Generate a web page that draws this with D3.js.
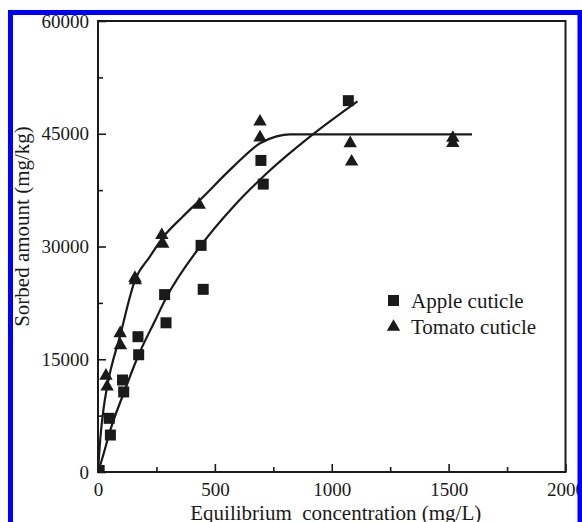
<!DOCTYPE html>
<html>
<head>
<meta charset="utf-8">
<script src="https://cdn.jsdelivr.net/npm/d3@7"></script>
<style>
  html, body { margin: 0; padding: 0; background: #fff; }
  svg { display: block; }
  svg text { font-family: "Liberation Serif", "Times New Roman", serif !important; fill: #1a1a1a; }
</style>
</head>
<body>
<script>
// ---- data ----
const appleX = [5, 48, 53, 105, 110, 171, 174, 285, 291, 441, 450, 697, 707, 1071];
const appleY = [200, 7140, 4920, 12240, 10650, 18000, 15600, 23600, 19850, 30150, 24300, 41450, 38300, 49400];

const tomatoX = [34, 39, 95, 96, 158, 160, 273, 277, 433, 693, 693, 1079, 1085, 1518, 1518];
const tomatoY = [12800, 11350, 18450, 16850, 25800, 25500, 31500, 30350, 35550, 46600, 44500, 43730, 41280, 44450, 43750];

// fitted curves
const appleFitX = [0, 20, 53, 110, 174, 245, 294, 436, 579, 722, 907, 1110];
const appleFitY = [0, 2000, 5600, 10500, 15600, 20200, 23300, 29970, 35300, 39740, 44610, 49300];

const tomatoFitX = [0, 10, 25, 40, 95, 158, 222, 280, 360, 436, 579, 693, 764, 821, 900, 1600];
const tomatoFitY = [0, 4500, 8700, 11500, 18200, 25500, 28650, 31300, 33900, 36190, 40620, 43730, 44650, 44930, 44930, 44930];

const xMajorTicks = [0, 500, 1000, 1500, 2000];
const xMinorTicks = [250, 750, 1250, 1750];
const yMajorTicks = [0, 15000, 30000, 45000, 60000];
const yMinorTicks = [7500, 22500, 37500, 52500];

const seriesNames = ["Apple cuticle", "Tomato cuticle"];
const xTitle = "Equilibrium\u00a0\u00a0concentration (mg/L)";
const yTitle = "Sorbed amount (mg/kg)";

// ---- layout ----
const W = 582, H = 522;
const L = 98, R = 565.5, T = 21, B = 472;
const ink = "#1a1a1a";
const serif = "'Liberation Serif', 'Times New Roman', serif";

const svg = d3.select("body").append("svg").attr("width", W).attr("height", H)
  .style("font-family", serif);

const x = d3.scaleLinear().domain([0, 2000]).range([L, R]);
const y = d3.scaleLinear().domain([0, 60000]).range([B, T]);

svg.append("defs").append("clipPath").attr("id", "plotclip")
  .append("rect").attr("x", L).attr("y", T).attr("width", R - L).attr("height", B - T);

// axes with inward ticks
const gx = svg.append("g").attr("transform", `translate(0,${B})`);
gx.call(d3.axisBottom(x).tickValues(xMajorTicks).tickSize(-8).tickPadding(11).tickFormat(d3.format("d")));
const gxm = svg.append("g").attr("transform", `translate(0,${B})`);
gxm.call(d3.axisBottom(x).tickValues(xMinorTicks).tickSize(-5).tickFormat(""));

const gy = svg.append("g").attr("transform", `translate(${L},0)`);
gy.call(d3.axisLeft(y).tickValues(yMajorTicks).tickSize(-8).tickPadding(9).tickFormat(d3.format("d")));
const gym = svg.append("g").attr("transform", `translate(${L},0)`);
gym.call(d3.axisLeft(y).tickValues(yMinorTicks).tickSize(-5).tickFormat(""));

[gx, gxm, gy, gym].forEach(g => {
  g.attr("font-family", serif).attr("font-size", 19);
  g.select(".domain").remove();
  g.selectAll(".tick line").attr("stroke", ink).attr("stroke-width", 1.6);
  g.selectAll(".tick text").style("font-family", serif).style("font-size", "19px").attr("fill", ink);
});

// frame
svg.append("rect").attr("x", L).attr("y", T).attr("width", R - L).attr("height", B - T)
  .attr("fill", "none").attr("stroke", ink).attr("stroke-width", 2);

// fitted curves
const line = d3.line().x(d => x(d[0])).y(d => y(d[1])).curve(d3.curveMonotoneX);
const plot = svg.append("g").attr("clip-path", "url(#plotclip)");
plot.append("path").datum(tomatoFitX.map((v, i) => [v, tomatoFitY[i]]))
  .attr("d", line).attr("fill", "none").attr("stroke", ink).attr("stroke-width", 2.2);
plot.append("path").datum(appleFitX.map((v, i) => [v, appleFitY[i]]))
  .attr("d", line).attr("fill", "none").attr("stroke", ink).attr("stroke-width", 2.2);

// markers
const sq = 11;
plot.selectAll("rect.apple").data(appleX.map((v, i) => [v, appleY[i]])).join("rect")
  .attr("class", "apple")
  .attr("x", d => x(d[0]) - sq / 2).attr("y", d => y(d[1]) - sq / 2)
  .attr("width", sq).attr("height", sq).attr("fill", ink);

const tri = d3.symbol().type(d3.symbolTriangle).size(78);
plot.selectAll("path.tomato").data(tomatoX.map((v, i) => [v, tomatoY[i]])).join("path")
  .attr("class", "tomato")
  .attr("d", tri)
  .attr("transform", d => `translate(${x(d[0])},${y(d[1])})`)
  .attr("fill", ink);

// legend
const lg = svg.append("g");
lg.append("rect").attr("x", 388).attr("y", 295).attr("width", sq).attr("height", sq).attr("fill", ink);
lg.append("path").attr("d", tri).attr("transform", "translate(393.5,327)").attr("fill", ink);
lg.append("text").attr("x", 411).attr("y", 307.5).attr("font-size", 21).text(seriesNames[0]);
lg.append("text").attr("x", 411).attr("y", 334).attr("font-size", 21).text(seriesNames[1]);

// axis titles
svg.append("text").attr("x", (L + R) / 2 + 4).attr("y", 520).attr("text-anchor", "middle")
  .attr("font-size", 21).text(xTitle);
svg.append("text").attr("transform", "translate(29,226.5) rotate(-90)").attr("text-anchor", "middle")
  .attr("font-size", 21).text(yTitle);

// blue outer border
svg.append("rect").attr("x", 10.5).attr("y", 12.5).attr("width", 569.5).attr("height", 530)
  .attr("fill", "none").attr("stroke", "#0000ff").attr("stroke-width", 5);
</script>
</body>
</html>
